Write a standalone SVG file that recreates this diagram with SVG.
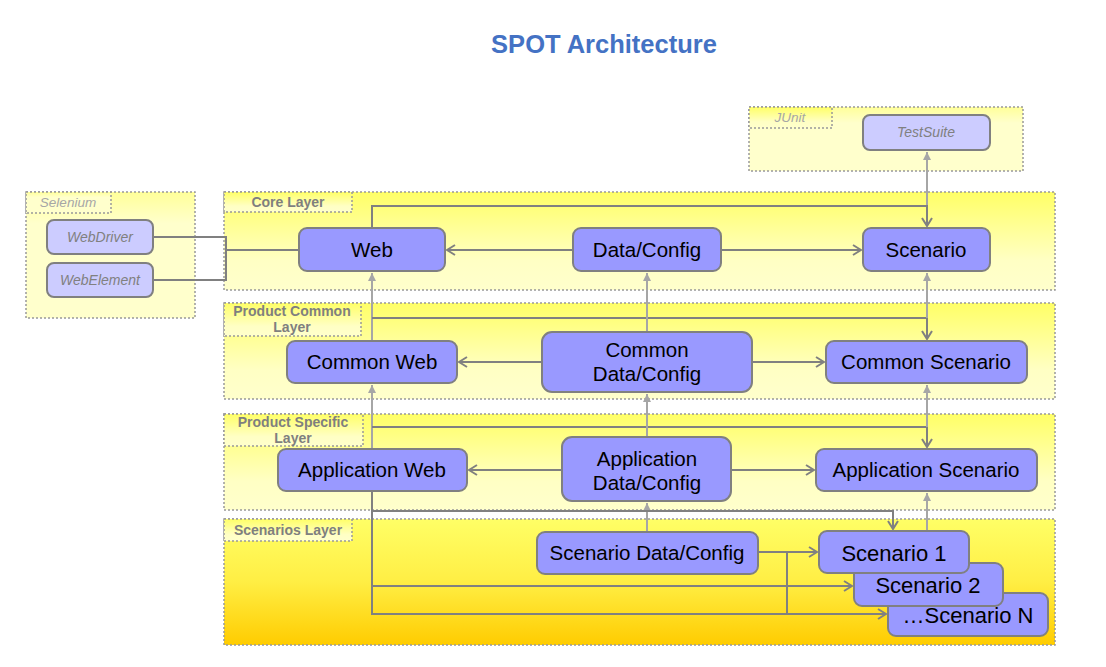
<svg xmlns="http://www.w3.org/2000/svg" width="1106" height="667" viewBox="0 0 1106 667">
<defs>
<linearGradient id="gLayer" x1="0" y1="0" x2="0" y2="1"><stop offset="0" stop-color="#FFFF66"/><stop offset="0.7" stop-color="#FFFFC4"/><stop offset="1" stop-color="#FFFFCC"/></linearGradient>
<linearGradient id="gPale" x1="0" y1="0" x2="0" y2="1"><stop offset="0" stop-color="#FFFF99"/><stop offset="0.25" stop-color="#FFFFCC"/><stop offset="1" stop-color="#FFFFCC"/></linearGradient>
<linearGradient id="gScen" x1="0" y1="0" x2="0" y2="1"><stop offset="0" stop-color="#FFFF66"/><stop offset="0.5" stop-color="#FFEE44"/><stop offset="1" stop-color="#FFCC00"/></linearGradient>
<marker id="open" viewBox="0 0 10 12" refX="9" refY="6" markerWidth="10" markerHeight="12" markerUnits="userSpaceOnUse" orient="auto"><path d="M1,1 L9,6 L1,11" fill="none" stroke="#808080" stroke-width="2"/></marker>
<marker id="fill" viewBox="0 0 8 8" refX="8" refY="4" markerWidth="8" markerHeight="8" markerUnits="userSpaceOnUse" orient="auto"><path d="M0,0 L8,4 L0,8 z" fill="#A6A6A6"/></marker>
</defs>
<style>
.layer{stroke:#999999;stroke-width:1.5;stroke-dasharray:2,2}
.lbl{fill:url(#gLayer);stroke:#999999;stroke-width:1.5;stroke-dasharray:2,2}
.lt{font-family:"Liberation Sans",Arial,sans-serif;font-weight:bold;font-size:14px;fill:#7F7F7F;text-anchor:middle}
.ext{font-family:"Liberation Sans",Arial,sans-serif;font-style:italic;font-size:13.5px;fill:#A6A6A6;text-anchor:middle}
.node{fill:#9999FF;stroke:#808080;stroke-width:2}
.enode{fill:#CCCCFF;stroke:#808080;stroke-width:2}
.nt{font-family:"Liberation Sans",Arial,sans-serif;font-size:20.5px;fill:#000000;text-anchor:middle}
.st{font-family:"Liberation Sans",Arial,sans-serif;font-size:22px;fill:#000000;text-anchor:middle}
.et{font-family:"Liberation Sans",Arial,sans-serif;font-style:italic;font-size:14px;fill:#808080;text-anchor:middle}
.c{fill:none;stroke:#808080;stroke-width:2}
.cl{fill:none;stroke:#A6A6A6;stroke-width:2}
.title{font-family:"Liberation Sans",Arial,sans-serif;font-weight:bold;font-size:25.5px;fill:#4472C4;text-anchor:middle}
</style>
<rect width="1106" height="667" fill="#FFFFFF"/>
<text class="title" x="604" y="53">SPOT Architecture</text>

<g id="selenium">
<rect class="layer" x="26" y="192" width="169" height="126" fill="url(#gPale)"/>
<rect class="lbl" x="26" y="192" width="85" height="21" style="fill:url(#gPale)"/>
<text class="ext" x="68" y="207">Selenium</text>
</g>
<g id="junit">
<rect class="layer" x="749" y="107" width="274" height="64" fill="url(#gPale)"/>
<rect class="lbl" x="749" y="107" width="83" height="21"/>
<text class="ext" x="790" y="122">JUnit</text>
</g>
<g id="core-layer">
<rect class="layer" x="224" y="192" width="831" height="98" fill="url(#gLayer)"/>
<rect class="lbl" x="224" y="192" width="128" height="20"/>
<text class="lt" x="288" y="207">Core Layer</text>
</g>
<g id="product-common-layer">
<rect class="layer" x="224" y="303" width="831" height="96" fill="url(#gLayer)"/>
<rect class="lbl" x="224" y="303" width="137" height="33"/>
<text class="lt" x="292" y="316">Product Common</text>
<text class="lt" x="292" y="332">Layer</text>
</g>
<g id="product-specific-layer">
<rect class="layer" x="224" y="414" width="831" height="96" fill="url(#gLayer)"/>
<rect class="lbl" x="224" y="414" width="139" height="32"/>
<text class="lt" x="293" y="427">Product Specific</text>
<text class="lt" x="293" y="443">Layer</text>
</g>
<g id="scenarios-layer">
<rect class="layer" x="224" y="519" width="831" height="126" fill="url(#gScen)"/>
<rect class="lbl" x="224" y="519" width="128" height="22"/>
<text class="lt" x="288" y="535">Scenarios Layer</text>
</g>

<g id="connectors">
<path class="c" d="M153,237 H226 V280 H153"/>
<path class="c" d="M226,250 H299"/>
<path class="c" d="M573,250 H447" marker-end="url(#open)"/>
<path class="c" d="M721,250 H861" marker-end="url(#open)"/>
<path class="cl" d="M927,206 V152" marker-end="url(#fill)"/>
<path class="c" d="M372,228 V206 H927 V226" marker-end="url(#open)"/>
<path class="cl" d="M372,341 V273" marker-end="url(#fill)"/>
<path class="c" d="M372,318 H927 V339" marker-end="url(#open)"/>
<path class="cl" d="M647,332 V273" marker-end="url(#fill)"/>
<path class="cl" d="M927,318 V273" marker-end="url(#fill)"/>
<path class="c" d="M542,362 H459" marker-end="url(#open)"/>
<path class="c" d="M752,362 H824" marker-end="url(#open)"/>
<path class="cl" d="M372,449 V385" marker-end="url(#fill)"/>
<path class="c" d="M372,427 H927 V447" marker-end="url(#open)"/>
<path class="cl" d="M647,437 V394" marker-end="url(#fill)"/>
<path class="cl" d="M927,427 V385" marker-end="url(#fill)"/>
<path class="c" d="M562,470 H469" marker-end="url(#open)"/>
<path class="c" d="M731,470 H814" marker-end="url(#open)"/>
<path class="cl" d="M647,532 V503" marker-end="url(#fill)"/>
<path class="cl" d="M927,531 V493" marker-end="url(#fill)"/>
<path class="c" d="M372,491 V614 H886" marker-end="url(#open)"/>
<path class="c" d="M372,586 H852" marker-end="url(#open)"/>
<path class="c" d="M372,511 H893 V529" marker-end="url(#open)"/>
<path class="c" d="M758,552 H817" marker-end="url(#open)"/>
<path class="c" d="M787,552 V614"/>
</g>

<g id="webdriver"><rect class="enode" x="47" y="220" width="106" height="34" rx="7"/><text class="et" x="100" y="242">WebDriver</text></g>
<g id="webelement"><rect class="enode" x="47" y="263" width="106" height="34" rx="7"/><text class="et" x="100" y="285">WebElement</text></g>
<g id="testsuite"><rect class="enode" x="863" y="115" width="127" height="35" rx="7"/><text class="et" x="926" y="137">TestSuite</text></g>

<g id="web"><rect class="node" x="299" y="228" width="146" height="43" rx="8"/><text class="nt" x="372" y="257">Web</text></g>
<g id="data-config"><rect class="node" x="573" y="228" width="148" height="43" rx="8"/><text class="nt" x="647" y="257">Data/Config</text></g>
<g id="scenario"><rect class="node" x="863" y="228" width="127" height="43" rx="8"/><text class="nt" x="926" y="257">Scenario</text></g>

<g id="common-web"><rect class="node" x="287" y="341" width="170" height="42" rx="8"/><text class="nt" x="372" y="369">Common Web</text></g>
<g id="common-data-config"><rect class="node" x="542" y="332" width="210" height="60" rx="10"/><text class="nt" x="647" y="357">Common</text><text class="nt" x="647" y="381">Data/Config</text></g>
<g id="common-scenario"><rect class="node" x="826" y="341" width="201" height="42" rx="8"/><text class="nt" x="926" y="369">Common Scenario</text></g>

<g id="application-web"><rect class="node" x="278" y="449" width="189" height="42" rx="8"/><text class="nt" x="372" y="477">Application Web</text></g>
<g id="application-data-config"><rect class="node" x="562" y="437" width="169" height="64" rx="10"/><text class="nt" x="647" y="466">Application</text><text class="nt" x="647" y="490">Data/Config</text></g>
<g id="application-scenario"><rect class="node" x="816" y="449" width="221" height="42" rx="8"/><text class="nt" x="926" y="477">Application Scenario</text></g>

<g id="scenario-data-config"><rect class="node" x="537" y="532" width="221" height="42" rx="8"/><text class="nt" x="647" y="560">Scenario Data/Config</text></g>
<g id="scenario-n"><rect class="node" x="888" y="593" width="160" height="43" rx="8"/><text class="st" x="968" y="623">…Scenario N</text></g>
<g id="scenario-2"><rect class="node" x="854" y="563" width="149" height="43" rx="8"/><text class="st" x="928" y="593">Scenario 2</text></g>
<g id="scenario-1"><rect class="node" x="819" y="531" width="150" height="42" rx="8"/><text class="st" x="894" y="561">Scenario 1</text></g>
</svg>
